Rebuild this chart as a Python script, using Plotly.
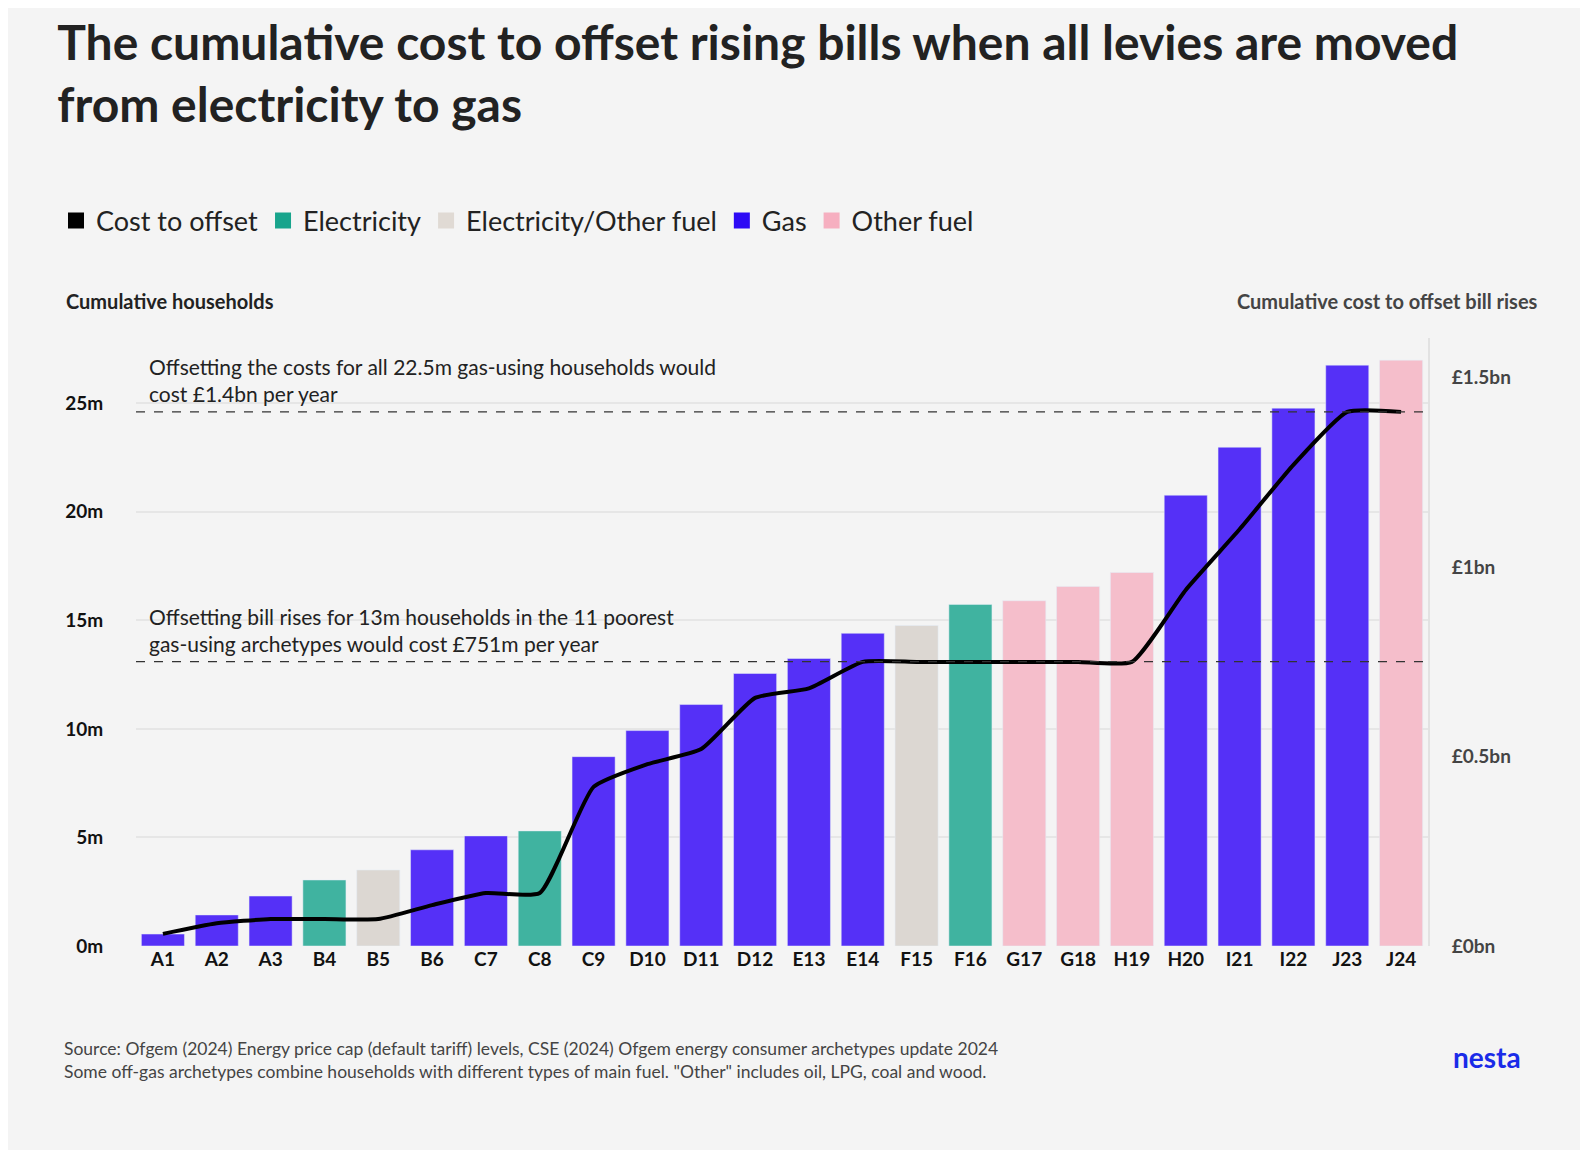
import plotly.graph_objects as go

categories = ["A1","A2","A3","B4","B5","B6","C7","C8","C9","D10","D11","D12","E13","E14","F15","F16","G17","G18","H19","H20","I21","I22","J23","J24"]
fuel = ["Gas","Gas","Gas","Electricity","Electricity/Other fuel","Gas","Gas","Electricity","Gas","Gas","Gas","Gas","Gas","Gas",
        "Electricity/Other fuel","Electricity","Other fuel","Other fuel","Other fuel","Gas","Gas","Gas","Gas","Other fuel"]
households_m = [0.55,1.43,2.3,3.04,3.5,4.43,5.07,5.3,8.72,9.92,11.12,12.55,13.24,14.4,14.76,15.73,15.9,16.56,17.2,20.76,22.97,24.77,26.75,26.98]
cost_bn = [0.032,0.06,0.071,0.071,0.071,0.108,0.14,0.14,0.42,0.48,0.52,0.655,0.68,0.75,0.75,0.75,0.75,0.75,0.75,0.94,1.10,1.27,1.41,1.41]
ref_lines_m = [13.1, 24.6]

bar_colors = {"Gas":"#5530F7","Electricity":"#40B3A0","Electricity/Other fuel":"#DCD7D2","Other fuel":"#F5BECB"}
legend_colors = [("Cost to offset","#000000"),("Electricity","#18A48C"),("Electricity/Other fuel","#E0DAD4"),("Gas","#2D0AF5"),("Other fuel","#F6AFC0")]

FONT = "Lato"
L, R, T, B, W, H = 128, 168, 330, 212, 1588, 1150
PW, PH = W - L - R, H - T - B

def px(x): return (x - L) / PW
def py(y): return (H - B - y) / PH

fig = go.Figure()
fig.add_bar(x=categories, y=households_m, marker_color=[bar_colors[f] for f in fuel], width=0.8, showlegend=False, hoverinfo="x+y")
fig.add_scatter(x=categories, y=cost_bn, yaxis="y2", mode="lines", line=dict(color="black", width=4, shape="spline", smoothing=0.5), showlegend=False)
for name, c in legend_colors:
    fig.add_scatter(x=[None], y=[None], mode="markers", name=name,
                    marker=dict(symbol="square", size=22, color=c, line=dict(width=0)))

for v in ref_lines_m:
    fig.add_shape(type="line", xref="x domain", yref="y", x0=0, x1=1, y0=v, y1=v,
                  line=dict(color="#333", width=1.3, dash="dash"))

fig.update_layout(
    width=W, height=H, paper_bgcolor="#F4F4F4", plot_bgcolor="#F4F4F4",
    margin=dict(l=L, r=R, t=T, b=B),
    font=dict(family=FONT, color="#222"),
    title=dict(text="<b>The cumulative cost to offset rising bills when all levies are moved<br>from electricity to gas</b>",
               x=0.031, xanchor="left", y=0.955, yanchor="top", font=dict(size=48, color="#222", family=FONT)),
    legend=dict(orientation="h", x=px(48), y=py(213), xanchor="left", yanchor="middle",
                font=dict(size=27, color="#222"), traceorder="normal", bgcolor="rgba(0,0,0,0)"),
    xaxis=dict(tickfont=dict(size=19, color="#111", family=FONT), showgrid=False, ticks="", range=[-0.5, 23.5],
               tickprefix="<b>", ticksuffix="</b>"),
    yaxis=dict(range=[0, 28], tickvals=[0,5,10,15,20,25], ticktext=["<b>0m</b>","<b>5m</b>","<b>10m</b>","<b>15m</b>","<b>20m</b>","<b>25m</b>"],
               tickfont=dict(size=19, color="#111"), gridcolor="#E6E6E6", gridwidth=1.5, zeroline=False, ticklen=28, ticks="outside", tickcolor="rgba(0,0,0,0)"),
    yaxis2=dict(overlaying="y", side="right", range=[0, 1.605], tickvals=[0,0.5,1,1.5],
                ticktext=["<b>£0bn</b>","<b>£0.5bn</b>","<b>£1bn</b>","<b>£1.5bn</b>"],
                tickfont=dict(size=19, color="#444"), showgrid=False, zeroline=False, showline=True, linecolor="#E2E2E2", linewidth=2,
                ticks="outside", ticklen=18, tickcolor="rgba(0,0,0,0)"),
)

ann = [
    dict(text="<b>Cumulative households</b>", x=56, y=293, size=20, xanchor="left", color="#222"),
    dict(text="<b>Cumulative cost to offset bill rises</b>", x=1532, y=293, size=20, xanchor="right", color="#444"),
    dict(text="Offsetting the costs for all 22.5m gas-using households would<br>cost £1.4bn per year", x=139, y=372, size=21, xanchor="left", color="#222"),
    dict(text="Offsetting bill rises for 13m households in the 11 poorest<br>gas-using archetypes would cost £751m per year", x=139, y=622, size=21, xanchor="left", color="#222"),
    dict(text="Source: Ofgem (2024) Energy price cap (default tariff) levels, CSE (2024) Ofgem energy consumer archetypes update 2024<br>Some off-gas archetypes combine households with different types of main fuel. \"Other\" includes oil, LPG, coal and wood.",
         x=54, y=1052, size=17.5, xanchor="left", color="#444"),
    dict(text="<b>nesta</b>", x=1515, y=1049, size=28, xanchor="right", color="#1A2BE8"),
]
for a in ann:
    fig.add_annotation(text=a["text"], xref="paper", yref="paper", x=px(a["x"]), y=py(a["y"]),
                       xanchor=a["xanchor"], yanchor="middle", align="left", showarrow=False,
                       font=dict(size=a["size"], color=a["color"], family=FONT))

fig.write_html("out.html")
